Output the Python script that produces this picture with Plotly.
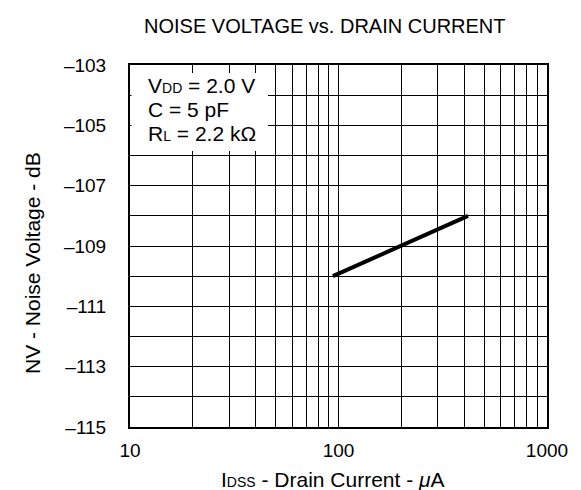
import plotly.graph_objects as go

# Data
drain_current_uA = [94, 418]
noise_voltage_db = [-110.0, -108.0]

x_grid_vals = [10, 20, 30, 40, 50, 60, 70, 80, 90, 100, 200, 300, 400, 500, 600, 700, 800, 900, 1000]
x_tick_labels = ["10", "", "", "", "", "", "", "", "", "100", "", "", "", "", "", "", "", "", "1000"]
y_grid_vals = [-115, -114, -113, -112, -111, -110, -109, -108, -107, -106, -105, -104, -103]
y_tick_labels = ["\u2013115", "", "\u2013113", "", "\u2013111", "", "\u2013109", "", "\u2013107", "", "\u2013105", "", "\u2013103"]
condition_lines = ["V<span style=\"font-size:14px\">DD</span> = 2.0 V",
                   "C = 5 pF",
                   "R<span style=\"font-size:14px\">L</span> = 2.2 k\u03a9"]

FONT = "Liberation Sans, Arial, Helvetica, sans-serif"
W, H = 581, 490
L, R, T, B = 122, 42, 57, 71
PW, PH = W - L - R, H - T - B


def px_x(x):
    return (x - L) / PW


def px_y(y):
    return (H - B - y) / PH


fig = go.Figure()
fig.add_trace(go.Scatter(
    x=drain_current_uA, y=noise_voltage_db, mode="lines",
    line=dict(color="black", width=4), showlegend=False, hoverinfo="skip",
))

# condition box (white background covering grid)
fig.add_shape(type="rect", xref="paper", yref="paper",
              x0=px_x(123.5), x1=px_x(260), y0=px_y(143), y1=px_y(65),
              fillcolor="white", line=dict(width=0), layer="above")
for txt, yc in zip(condition_lines, [77.5, 101.0, 125.5]):
    fig.add_annotation(
        xref="paper", yref="paper", x=px_x(138), y=px_y(yc),
        xanchor="left", yanchor="middle", align="left", showarrow=False,
        text=txt, font=dict(family=FONT, size=21, color="black"),
    )

# axis titles and chart title as positioned text
fig.add_annotation(xref="paper", yref="paper", x=px_x(325), y=px_y(471),
                   xanchor="center", yanchor="middle", showarrow=False,
                   text="I<span style=\"font-size:14px\">DSS</span> - Drain Current - <i>\u03bc</i>A",
                   font=dict(family=FONT, size=21, color="black"))
fig.add_annotation(xref="paper", yref="paper", x=px_x(24), y=px_y(255),
                   xanchor="center", yanchor="middle", showarrow=False, textangle=-90,
                   text="NV - Noise Voltage - dB",
                   font=dict(family=FONT, size=21, color="black"))
fig.add_annotation(xref="paper", yref="paper", x=px_x(317), y=px_y(18),
                   xanchor="center", yanchor="middle", showarrow=False,
                   text="NOISE VOLTAGE vs. DRAIN CURRENT",
                   font=dict(family=FONT, size=20, color="black"))

fig.update_layout(
    width=W, height=H,
    margin=dict(l=L, r=R, t=T, b=B),
    paper_bgcolor="white", plot_bgcolor="white",
    font=dict(family=FONT, size=19, color="black"),
    xaxis=dict(
        type="log", range=[1, 3], tickvals=x_grid_vals, ticktext=x_tick_labels,
        showgrid=True, gridcolor="black", gridwidth=1,
        showline=True, linecolor="black", linewidth=2, mirror=True,
        ticks="", ticklabelstandoff=5, zeroline=False,
        tickfont=dict(family=FONT, size=19),
    ),
    yaxis=dict(
        range=[-115, -103], tickvals=y_grid_vals, ticktext=y_tick_labels,
        showgrid=True, gridcolor="black", gridwidth=1,
        showline=True, linecolor="black", linewidth=2, mirror=True,
        ticks="", ticklabelstandoff=18, zeroline=False,
        tickfont=dict(family=FONT, size=19),
    ),
)

fig.write_html("out.html")
